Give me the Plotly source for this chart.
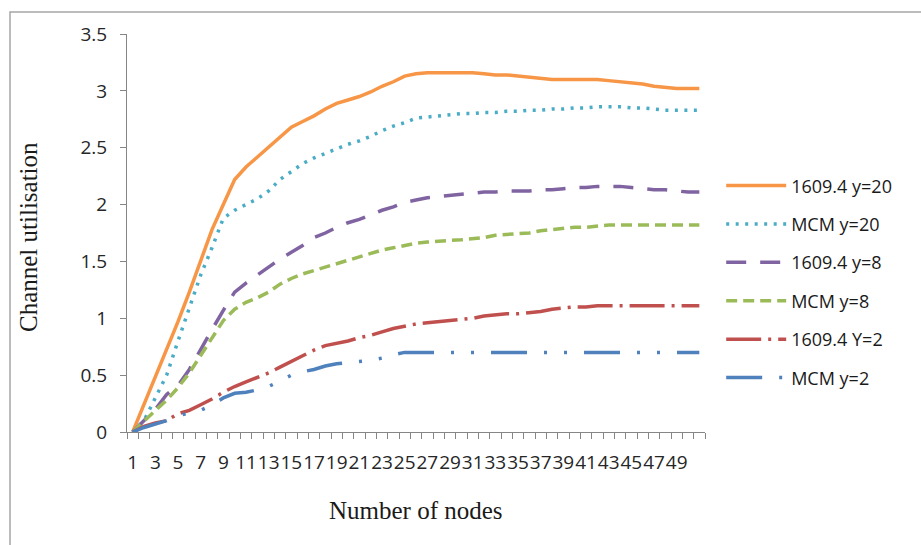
import plotly.graph_objects as go

# Number of nodes on the x axis (51 samples, odd labels shown up to 49)
nodes = list(range(1, 52))
tick_nodes = list(range(1, 50, 2))

# Channel utilisation per series
ieee_y20 = [0, 0.24, 0.48, 0.72, 0.97, 1.23, 1.5, 1.78, 2.0, 2.22,
            2.33, 2.42, 2.51, 2.6, 2.68, 2.73, 2.78, 2.84, 2.89, 2.92,
            2.95, 2.99, 3.04, 3.08, 3.13, 3.15, 3.16, 3.16, 3.16, 3.16,
            3.16, 3.15, 3.14, 3.14, 3.13, 3.12, 3.11, 3.1, 3.1, 3.1,
            3.1, 3.1, 3.09, 3.08, 3.07, 3.06, 3.04, 3.03, 3.02, 3.02, 3.02]
mcm_y20 = [0, 0.1, 0.3, 0.5, 0.8, 1.1, 1.38, 1.62, 1.88, 1.95,
           2.0, 2.05, 2.12, 2.22, 2.29, 2.36, 2.41, 2.45, 2.49, 2.53,
           2.56, 2.6, 2.65, 2.69, 2.72, 2.76, 2.77, 2.78, 2.79, 2.8,
           2.8, 2.81, 2.81, 2.82, 2.82, 2.83, 2.83, 2.84, 2.84, 2.85,
           2.85, 2.86, 2.86, 2.86, 2.85, 2.85, 2.84, 2.83, 2.83, 2.83, 2.83]
ieee_y8 = [0, 0.1, 0.2, 0.33, 0.41, 0.55, 0.73, 0.9, 1.07, 1.23,
           1.31, 1.38, 1.45, 1.52, 1.58, 1.64, 1.71, 1.75, 1.8, 1.84,
           1.87, 1.91, 1.95, 1.98, 2.02, 2.04, 2.06, 2.07, 2.08, 2.09,
           2.1, 2.11, 2.11, 2.12, 2.12, 2.12, 2.13, 2.13, 2.14, 2.15,
           2.15, 2.16, 2.16, 2.16, 2.15, 2.14, 2.13, 2.13, 2.12, 2.11, 2.11]
mcm_y8 = [0, 0.1, 0.19, 0.28, 0.39, 0.52, 0.67, 0.82, 0.98, 1.08,
          1.14, 1.18, 1.23, 1.3, 1.35, 1.39, 1.42, 1.45, 1.48, 1.51,
          1.54, 1.57, 1.6, 1.62, 1.64, 1.66, 1.67, 1.68, 1.685, 1.69,
          1.7, 1.71, 1.73, 1.74, 1.745, 1.75, 1.77, 1.78, 1.79, 1.8,
          1.8, 1.81, 1.82, 1.82, 1.82, 1.82, 1.82, 1.82, 1.82, 1.82, 1.82]
ieee_y2 = [0, 0.05, 0.08, 0.1, 0.16, 0.19, 0.24, 0.29, 0.35, 0.4,
           0.44, 0.48, 0.52, 0.57, 0.62, 0.67, 0.72, 0.76, 0.78, 0.8,
           0.83, 0.85, 0.88, 0.91, 0.93, 0.95, 0.96, 0.97, 0.98, 0.99,
           1.0, 1.02, 1.03, 1.04, 1.04, 1.05, 1.06, 1.08, 1.09, 1.1,
           1.1, 1.11, 1.11, 1.11, 1.11, 1.11, 1.11, 1.11, 1.11, 1.11, 1.11]
mcm_y2 = [0, 0.04, 0.07, 0.1, 0.14, 0.17, 0.19, 0.24, 0.3, 0.34,
          0.35, 0.37, 0.4, 0.45, 0.5, 0.53, 0.55, 0.58, 0.6, 0.61,
          0.62, 0.63, 0.65, 0.68, 0.7, 0.7, 0.7, 0.7, 0.7, 0.7,
          0.7, 0.7, 0.7, 0.7, 0.7, 0.7, 0.7, 0.7, 0.7, 0.7,
          0.7, 0.7, 0.7, 0.7, 0.7, 0.7, 0.7, 0.7, 0.7, 0.7, 0.7]

series = [
    ("1609.4 y=20", ieee_y20, "#F79646", "solid"),
    ("MCM y=20", mcm_y20, "#4BACC6", "3px,6.5px"),
    ("1609.4 y=8", ieee_y8, "#8064A2", "20px,14px"),
    ("MCM y=8", mcm_y8, "#9BBB59", "11px,6px"),
    ("1609.4 Y=2", ieee_y2, "#C0504D", "35px,7px,3px,7px"),
    ("MCM y=2", mcm_y2, "#4F81BD", "36px,17px,3px,17px,3px,17px"),
]

fig = go.Figure()
for i, (name, vals, color, dash) in enumerate(series):
    fig.add_trace(go.Scatter(
        x=nodes, y=vals, name=name, mode="lines",
        legendgroup=f"g{i}",
        line=dict(color=color, width=3.5, dash=dash),
    ))

axis_grey = "#868686"
tick_font = dict(family="Open Sans", size=19, color="#262626")
title_font = dict(family="Liberation Serif", size=25, color="#1a1a1a")

fig.update_layout(
    width=921, height=545,
    margin=dict(l=127, r=216, t=34, b=113),
    paper_bgcolor="white", plot_bgcolor="white",
    showlegend=True,
    legend=dict(
        x=1.028, y=0.665, xanchor="left", yanchor="top",
        font=dict(family="Open Sans", size=18, color="#1a1a1a"),
        itemwidth=60, tracegroupgap=12,
        bgcolor="rgba(0,0,0,0)",
    ),
    xaxis=dict(
        range=[0.5, 51.5], showgrid=False, zeroline=False,
        showline=True, linecolor=axis_grey, linewidth=1,
        tickmode="array", tickvals=tick_nodes,
        ticktext=[str(v) for v in tick_nodes],
        ticks="", tickangle=0, tickfont=tick_font,
        ticklabelstandoff=13,
        minor=dict(ticks="outside", tick0=0.5, dtick=1, ticklen=6,
                   tickcolor=axis_grey, showgrid=False),
    ),
    yaxis=dict(
        range=[0, 3.5], showgrid=False, zeroline=False,
        showline=True, linecolor=axis_grey, linewidth=1,
        tick0=0, dtick=0.5, ticks="outside", ticklen=6,
        tickcolor=axis_grey, tickfont=tick_font,
        ticklabelstandoff=9,
    ),
    annotations=[
        dict(text="Channel utilisation", textangle=-90,
             xref="paper", yref="paper", x=(28 - 127) / 578, y=(432 - 237) / 398,
             xanchor="center", yanchor="middle",
             showarrow=False, font=title_font),
        dict(text="Number of nodes",
             xref="paper", yref="paper", x=(416 - 127) / 578, y=(432 - 510) / 398,
             xanchor="center", yanchor="middle",
             showarrow=False, font=title_font),
    ],
    shapes=[
        dict(type="rect", xref="paper", yref="paper",
             x0=(10 - 127) / 578, y0=-1.0, x1=2.0, y1=(432 - 12) / 398,
             line=dict(color="#A6A6A6", width=1.5), layer="below"),
    ],
)

fig.write_html("out.html")
